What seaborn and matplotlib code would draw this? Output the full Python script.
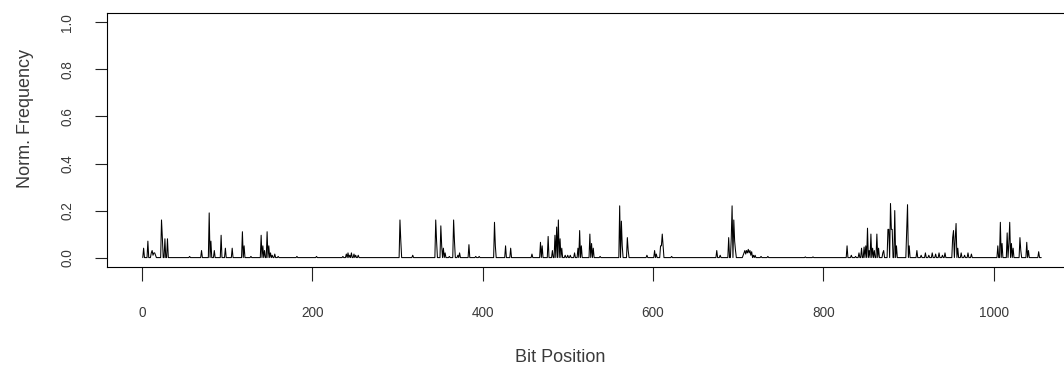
import numpy as np
import pandas as pd
import matplotlib
matplotlib.use("Agg")
import matplotlib.pyplot as plt
import seaborn as sns

# ---- data ----
n_bits = 1056
spike_pos = [2, 7, 11, 12, 13, 14, 15, 16, 23, 24, 27, 30, 56, 70, 79, 81, 85, 93, 98, 106,
             118, 120, 128, 140, 142, 144, 147, 149, 151, 153, 156, 160, 182, 205,
             236, 240, 242, 244, 246, 249, 251, 254, 303, 304, 318,
             345, 346, 351, 352, 354, 356, 361, 366, 367, 371, 373, 384, 392, 396,
             414, 415, 427, 433, 458, 468, 470, 477, 482, 485, 487, 489, 491, 493,
             497, 500, 503, 508, 512, 514, 516, 526, 528, 530, 538,
             561, 563, 564, 570, 571, 593, 602, 604, 609, 610, 611, 612, 622, 675, 679,
             689, 692, 693, 695, 696, 697, 706, 707, 708, 709, 710, 711, 712, 713, 714,
             715, 716, 718, 720, 727, 735, 779, 788,
             828, 833, 838, 842, 845, 848, 850, 852, 854, 856, 858, 860, 863, 865, 870,
             871, 876, 877, 879, 880, 881, 884, 886, 898, 899, 901, 910,
             915, 920, 924, 928, 932, 936, 940, 943, 952, 953, 955, 956, 958,
             962, 966, 970, 974, 1005, 1008, 1010, 1016, 1018, 1019, 1021, 1023,
             1031, 1032, 1039, 1041, 1053]
spike_val = [0.04, 0.07, 0.02, 0.03, 0.01, 0.02, 0.02, 0.01, 0.16, 0.085, 0.08, 0.08, 0.005, 0.03, 0.19, 0.07, 0.03, 0.095, 0.04, 0.04,
             0.11, 0.05, 0.005, 0.095, 0.05, 0.03, 0.11, 0.05, 0.02, 0.01, 0.015, 0.005, 0.005, 0.005,
             0.005, 0.015, 0.02, 0.01, 0.02, 0.015, 0.01, 0.01, 0.16, 0.07, 0.01,
             0.16, 0.07, 0.135, 0.05, 0.04, 0.02, 0.005, 0.16, 0.07, 0.01, 0.02, 0.055, 0.005, 0.005,
             0.15, 0.05, 0.05, 0.04, 0.015, 0.065, 0.05, 0.09, 0.03, 0.095, 0.13, 0.16, 0.08, 0.04,
             0.01, 0.01, 0.01, 0.02, 0.04, 0.115, 0.05, 0.1, 0.06, 0.04, 0.005,
             0.22, 0.155, 0.05, 0.085, 0.03, 0.01, 0.03, 0.015, 0.05, 0.05, 0.1, 0.05, 0.005, 0.03, 0.01,
             0.085, 0.08, 0.22, 0.16, 0.07, 0.03, 0.01, 0.02, 0.03, 0.015, 0.03, 0.02, 0.035, 0.02, 0.03,
             0.01, 0.025, 0.01, 0.01, 0.005, 0.005, 0.003, 0.003,
             0.05, 0.01, 0.005, 0.02, 0.04, 0.045, 0.05, 0.125, 0.03, 0.1, 0.04, 0.03, 0.1, 0.04, 0.02,
             0.03, 0.12, 0.12, 0.23, 0.12, 0.12, 0.2, 0.05, 0.12, 0.225, 0.05, 0.03,
             0.01, 0.02, 0.01, 0.02, 0.015, 0.02, 0.01, 0.02, 0.085, 0.115, 0.08, 0.145, 0.04,
             0.02, 0.01, 0.02, 0.015, 0.05, 0.15, 0.06, 0.105, 0.06, 0.15, 0.06, 0.04,
             0.085, 0.03, 0.065, 0.03, 0.025]
x_ticks = [0, 200, 400, 600, 800, 1000]
y_ticks = [0.0, 0.2, 0.4, 0.6, 0.8, 1.0]
x_label = "Bit Position"
y_label = "Norm. Frequency"

bits = np.arange(1, n_bits + 1)
freq = np.zeros(n_bits)
freq[np.array(spike_pos) - 1] = spike_val
df = pd.DataFrame({"bit": bits, "freq": freq})

# ---- style ----
sns.set_style("ticks")
plt.rcParams["font.family"] = ["Liberation Sans", "DejaVu Sans"]
txt = "#3a3a3a"

fig = plt.figure(figsize=(10.64, 3.74), dpi=100)
ax = fig.add_axes([107 / 1064, 107 / 374, 970 / 1064, 254 / 374])

sns.lineplot(data=df, x="bit", y="freq", ax=ax, color="black", linewidth=0.75, estimator=None)

ax.set_xlim(-41, 1098)
ax.set_ylim(-0.04, 1.04)
ax.set_xticks(x_ticks)
ax.set_yticks(y_ticks)
ax.set_xticklabels([str(v) for v in x_ticks], color=txt, fontsize=9.8)
ax.set_yticklabels([f"{v:.1f}" for v in y_ticks], color=txt, fontsize=9.8,
                   rotation=90, va="center")
ax.tick_params(axis="x", direction="out", length=10, width=0.8, pad=18, color="#222222")
ax.tick_params(axis="y", direction="out", length=8.6, width=0.8, pad=15, color="#222222")
for s in ax.spines.values():
    s.set_visible(True)
    s.set_color("black")
    s.set_linewidth(0.8)

ax.set_xlabel(x_label, color=txt, fontsize=13)
ax.set_ylabel(y_label, color=txt, fontsize=13)
ax.xaxis.set_label_coords((560 - 107) / 970, -(357 - 267) / 254)
ax.yaxis.set_label_coords(-(107 - 25) / 970, (267 - 118) / 254)
ax.xaxis.label.set_va("center")
ax.yaxis.label.set_va("center")

fig.savefig("out.png", dpi=100)
